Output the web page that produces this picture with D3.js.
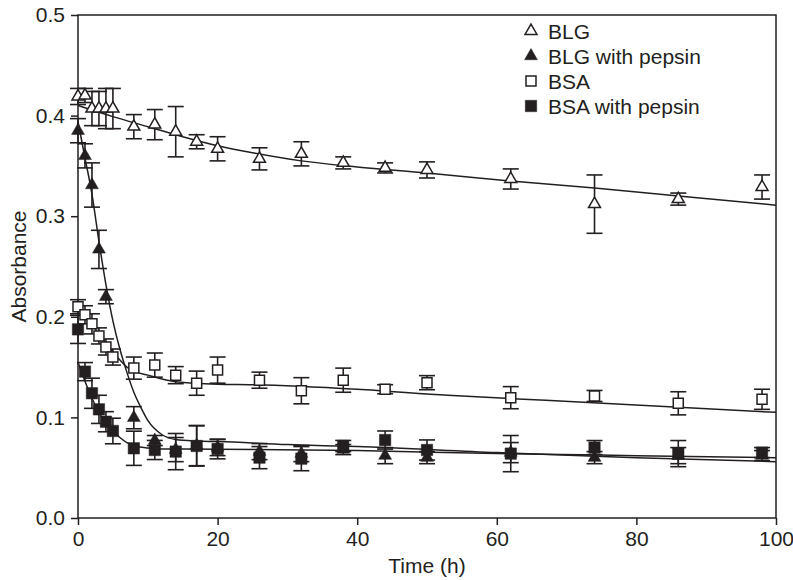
<!DOCTYPE html>
<html>
<head>
<meta charset="utf-8">
<script src="https://cdn.jsdelivr.net/npm/d3@7"></script>
<style>
  body { margin: 0; background: #fff; }
  text { font-family: "Liberation Sans", Arial, Helvetica, sans-serif; fill: #231f20; }
</style>
</head>
<body>
<div id="chart"></div>
<script>
// measured values (time in h, absorbance)
let blgTime = [0, 1, 2, 3, 4, 5, 8, 11, 14, 17, 20, 26, 32, 38, 44, 50, 62, 74, 86, 98];
let blgAbs  = [0.419, 0.420, 0.407, 0.407, 0.407, 0.407, 0.389, 0.391, 0.384, 0.374, 0.367, 0.357, 0.362, 0.353, 0.348, 0.346, 0.337, 0.312, 0.317, 0.329];
let blgErr  = [0.008, 0.007, 0.017, 0.017, 0.020, 0.020, 0.012, 0.015, 0.025, 0.007, 0.012, 0.011, 0.012, 0.006, 0.005, 0.008, 0.010, 0.029, 0.006, 0.012];

let blgPepTime = [0, 1, 2, 3, 4, 8, 11, 14, 17, 20, 26, 32, 38, 44, 50, 62, 74, 86, 98];
let blgPepAbs  = [0.385, 0.360, 0.331, 0.267, 0.220, 0.0997, 0.077, 0.068, 0.072, 0.070, 0.066, 0.064, 0.068, 0.062, 0.060, 0.065, 0.060, 0.062, 0.062];
let blgPepErr  = [0.012, 0.012, 0.022, 0.019, 0.007, 0.011, 0.005, 0.012, 0.020, 0.008, 0.008, 0.008, 0.005, 0.008, 0.006, 0.010, 0.006, 0.008, 0.005];

let bsaTime = [0, 1, 2, 3, 4, 5, 8, 11, 14, 17, 20, 26, 32, 38, 44, 50, 62, 74, 86, 98];
let bsaAbs  = [0.210, 0.202, 0.193, 0.181, 0.170, 0.160, 0.149, 0.152, 0.142, 0.134, 0.147, 0.137, 0.1265, 0.137, 0.128, 0.1345, 0.1196, 0.1213, 0.114, 0.118];
let bsaErr  = [0.007, 0.009, 0.010, 0.008, 0.008, 0.008, 0.011, 0.012, 0.0085, 0.012, 0.013, 0.008, 0.013, 0.012, 0.0045, 0.007, 0.011, 0.0055, 0.0115, 0.010];

let bsaPepTime = [0, 1, 2, 3, 4, 5, 8, 11, 14, 17, 20, 26, 32, 38, 44, 50, 62, 74, 86, 98];
let bsaPepAbs  = [0.1875, 0.1455, 0.124, 0.108, 0.0957, 0.0865, 0.0693, 0.0676, 0.066, 0.0716, 0.0686, 0.060, 0.059, 0.0716, 0.0775, 0.0676, 0.064, 0.070, 0.064, 0.065];
let bsaPepErr  = [0.014, 0.009, 0.015, 0.014, 0.010, 0.0127, 0.017, 0.0095, 0.018, 0.020, 0.0098, 0.011, 0.012, 0.0055, 0.009, 0.010, 0.018, 0.007, 0.013, 0.005];

// fitted curves
let blgFit = [[0, 0.410], [5, 0.399], [10, 0.389], [15, 0.379], [20, 0.370], [25, 0.363], [32, 0.355], [40, 0.349], [50, 0.343], [62, 0.335], [74, 0.328], [86, 0.320], [100, 0.311]];
let blgPepFit = [[0, 0.394], [1, 0.358], [2, 0.322], [3, 0.275], [4, 0.232], [5, 0.196], [6, 0.168], [7, 0.145], [8, 0.125], [9, 0.110], [10, 0.097], [12, 0.083], [14, 0.078], [17, 0.0765], [20, 0.076], [30, 0.073], [40, 0.071], [60, 0.065], [80, 0.060], [100, 0.056]];
let bsaFit = [[0, 0.208], [1, 0.200], [2, 0.192], [3, 0.183], [4, 0.174], [5, 0.165], [6, 0.157], [7, 0.150], [8, 0.146], [10, 0.142], [14, 0.1355], [20, 0.133], [25, 0.1325], [40, 0.128], [53, 0.122], [67, 0.117], [100, 0.105]];
let bsaPepFit = [[0, 0.155], [1, 0.136], [2, 0.119], [3, 0.105], [4, 0.094], [5, 0.087], [6, 0.080], [7, 0.075], [8, 0.072], [10, 0.0695], [12, 0.0686], [20, 0.0684], [40, 0.067], [60, 0.064], [80, 0.062], [100, 0.060]];

let legendNames = ["BLG", "BLG with pepsin", "BSA", "BSA with pepsin"];
let xTicks = [0, 20, 40, 60, 80, 100];
let yTicks = [0, 0.1, 0.2, 0.3, 0.4, 0.5];

let ink = "#231f20";
let fontSize = 21;
let width = 793, height = 580;
let margin = {left: 78, right: 17, top: 15, bottom: 62};

let svg = d3.select("#chart").append("svg")
  .attr("width", width)
  .attr("height", height);

let x = d3.scaleLinear().domain([0, 100]).range([margin.left, width - margin.right]);
let y = d3.scaleLinear().domain([0, 0.5]).range([height - margin.bottom, margin.top]);

function zip(t, a, e) {
  return t.map((d, i) => ({t: d, a: a[i], e: e[i]}));
}

let series = [
  {name: legendNames[0], data: zip(blgTime, blgAbs, blgErr), fit: blgFit, shape: d3.symbolTriangle, size: 62, filled: false},
  {name: legendNames[1], data: zip(blgPepTime, blgPepAbs, blgPepErr), fit: blgPepFit, shape: d3.symbolTriangle, size: 72, filled: true},
  {name: legendNames[2], data: zip(bsaTime, bsaAbs, bsaErr), fit: bsaFit, shape: d3.symbolSquare, size: 100, filled: false},
  {name: legendNames[3], data: zip(bsaPepTime, bsaPepAbs, bsaPepErr), fit: bsaPepFit, shape: d3.symbolSquare, size: 130, filled: true}
];

// axes
let xAxis = svg.append("g")
  .attr("transform", "translate(0," + y(0) + ")")
  .call(d3.axisBottom(x).tickValues(xTicks).tickSize(7).tickPadding(6));
let yAxis = svg.append("g")
  .attr("transform", "translate(" + x(0) + ",0)")
  .call(d3.axisLeft(y).tickValues(yTicks).tickFormat(d3.format(".1f")).tickSize(7).tickPadding(6));

[xAxis, yAxis].forEach(function (g) {
  g.select(".domain").remove();
  g.selectAll("line").attr("stroke", ink).attr("stroke-width", 1.5);
  g.selectAll("text").attr("font-size", fontSize).attr("fill", ink)
    .style("font-family", "'Liberation Sans', Arial, sans-serif");
});

// frame
svg.append("rect")
  .attr("x", x(0)).attr("y", y(0.5))
  .attr("width", x(100) - x(0)).attr("height", y(0) - y(0.5))
  .attr("fill", "none").attr("stroke", ink).attr("stroke-width", 1.5);

// fit curves
let line = d3.line().x(d => x(d[0])).y(d => y(d[1])).curve(d3.curveMonotoneX);
svg.selectAll(".fit").data(series).enter().append("path")
  .attr("class", "fit")
  .attr("d", d => line(d.fit))
  .attr("fill", "none")
  .attr("stroke", ink)
  .attr("stroke-width", 1.5);

// error bars + symbols
series.forEach(function (s) {
  let g = svg.append("g");
  let bars = g.selectAll(".err").data(s.data).enter().append("g");
  bars.append("line")
    .attr("x1", d => x(d.t)).attr("x2", d => x(d.t))
    .attr("y1", d => y(d.a - d.e)).attr("y2", d => y(d.a + d.e))
    .attr("stroke", ink).attr("stroke-width", 1.6);
  [-1, 1].forEach(function (sign) {
    bars.append("line")
      .attr("x1", d => x(d.t) - 8).attr("x2", d => x(d.t) + 8)
      .attr("y1", d => y(d.a + sign * d.e)).attr("y2", d => y(d.a + sign * d.e))
      .attr("stroke", ink).attr("stroke-width", 1.6);
  });
});

series.forEach(function (s) {
  svg.append("g").selectAll("path").data(s.data).enter().append("path")
    .attr("d", d3.symbol().type(s.shape).size(s.size))
    .attr("transform", d => "translate(" + x(d.t) + "," + y(d.a) + ")")
    .attr("fill", s.filled ? ink : "#fff")
    .attr("stroke", ink)
    .attr("stroke-width", s.filled ? 0.5 : 1.5);
});

// legend
let legend = svg.append("g").attr("transform", "translate(531,31)");
let rows = legend.selectAll("g").data(series).enter().append("g")
  .attr("transform", (d, i) => "translate(0," + (i * 25) + ")");
rows.append("path")
  .attr("d", d => d3.symbol().type(d.shape).size(d.size)())
  .attr("fill", d => d.filled ? ink : "#fff")
  .attr("stroke", ink)
  .attr("stroke-width", d => d.filled ? 0.5 : 1.5);
rows.append("text")
  .attr("x", 17)
  .attr("y", 8)
  .attr("font-size", fontSize)
  .text(d => d.name);

// axis titles
svg.append("text")
  .attr("x", (x(0) + x(100)) / 2)
  .attr("y", 573)
  .attr("text-anchor", "middle")
  .attr("font-size", fontSize)
  .text("Time (h)");

svg.append("text")
  .attr("transform", "translate(26," + ((y(0) + y(0.5)) / 2) + ") rotate(-90)")
  .attr("text-anchor", "middle")
  .attr("font-size", fontSize)
  .text("Absorbance");
</script>
</body>
</html>
